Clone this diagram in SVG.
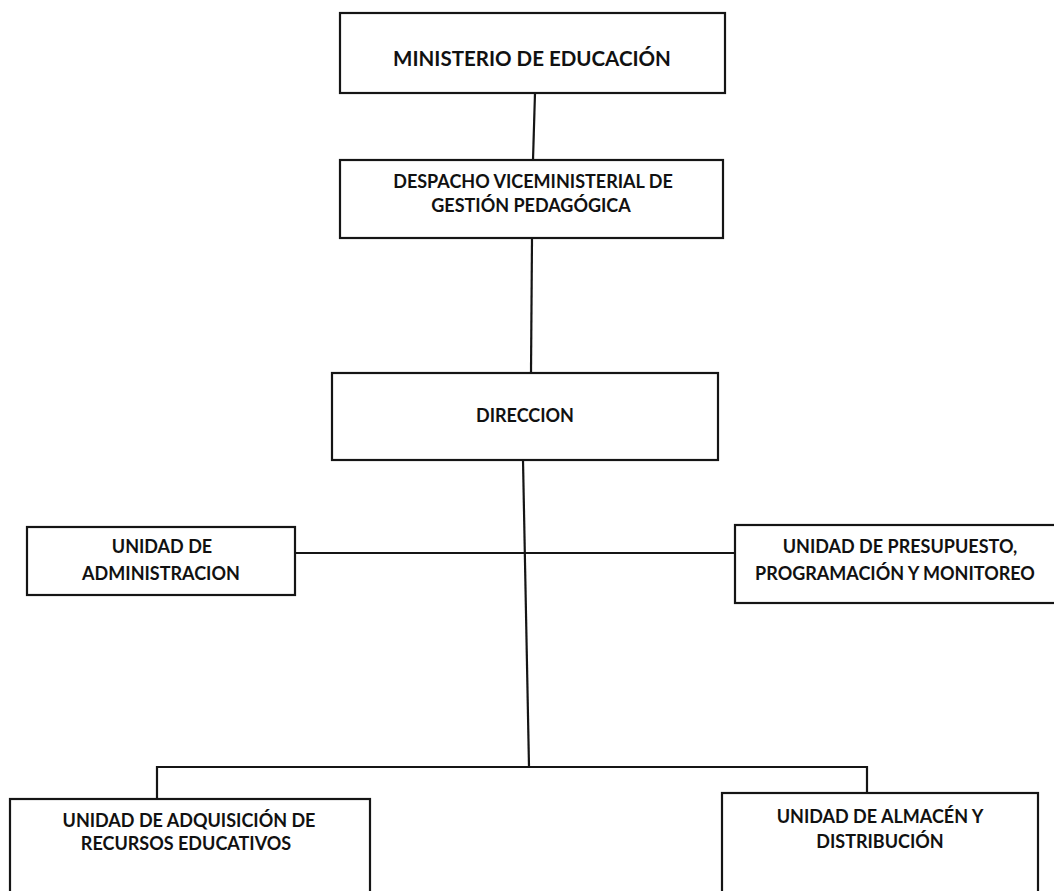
<svg xmlns="http://www.w3.org/2000/svg" width="1054" height="891" viewBox="0 0 1054 891">
<style>
.box{fill:#fff;stroke:#151515;stroke-width:2.2}
.ln{fill:none;stroke:#151515;stroke-width:2.2}
.t{font-family:Lato,"Open Sans","Liberation Sans",sans-serif;font-weight:bold;font-size:18px;fill:#111;text-anchor:middle}
.big{font-size:20.5px}
</style>
<rect width="1054" height="891" fill="#fff"/>
<g id="connectors">
<path class="ln" d="M535 93 L533 160"/>
<path class="ln" d="M532 238 L531 373"/>
<path class="ln" d="M523 460 L529 767"/>
<path class="ln" d="M295 553 L735 553"/>
<path class="ln" d="M157 799 L157 767 L867 767 L867 793"/>
</g>
<g id="ministerio">
<rect class="box" x="340" y="13" width="385" height="80"/>
<text class="t big" x="532" y="66">MINISTERIO DE EDUCACIÓN</text>
</g>
<g id="despacho">
<rect class="box" x="340" y="160" width="383" height="78"/>
<text class="t" x="533" y="188">DESPACHO VICEMINISTERIAL DE</text>
<text class="t" x="531" y="212">GESTIÓN PEDAGÓGICA</text>
</g>
<g id="direccion">
<rect class="box" x="332" y="373" width="386" height="87"/>
<text class="t" x="525" y="422">DIRECCION</text>
</g>
<g id="administracion">
<rect class="box" x="27" y="527" width="268" height="68"/>
<text class="t" x="162" y="553">UNIDAD DE</text>
<text class="t" x="161" y="580">ADMINISTRACION</text>
</g>
<g id="presupuesto">
<rect class="box" x="735" y="525" width="330" height="78"/>
<text class="t" x="900" y="553">UNIDAD DE PRESUPUESTO,</text>
<text class="t" x="895" y="580">PROGRAMACIÓN Y MONITOREO</text>
</g>
<g id="adquisicion">
<rect class="box" x="10" y="799" width="360" height="110"/>
<text class="t" x="189" y="827">UNIDAD DE ADQUISICIÓN DE</text>
<text class="t" x="186" y="850">RECURSOS EDUCATIVOS</text>
</g>
<g id="almacen">
<rect class="box" x="722" y="793" width="316" height="110"/>
<text class="t" x="880" y="823">UNIDAD DE ALMACÉN Y</text>
<text class="t" x="880" y="848">DISTRIBUCIÓN</text>
</g>
</svg>
